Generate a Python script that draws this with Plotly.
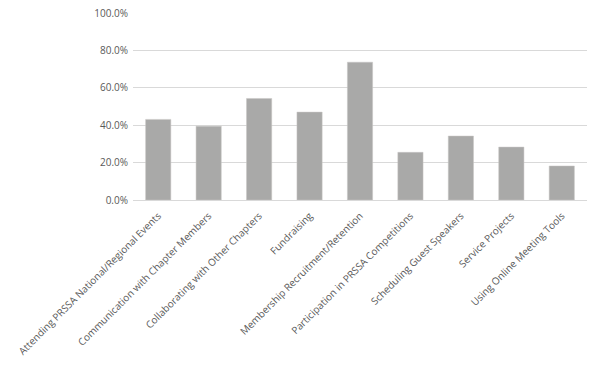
import plotly.graph_objects as go

categories = [
    "Attending PRSSA National/Regional Events",
    "Communication with Chapter Members",
    "Collaborating with Other Chapters",
    "Fundraising",
    "Membership Recruitment/Retention",
    "Participation in PRSSA Competitions",
    "Scheduling Guest Speakers",
    "Service Projects",
    "Using Online Meeting Tools",
]
values = [0.431, 0.395, 0.543, 0.470, 0.737, 0.255, 0.342, 0.283, 0.182]
y_ticks = [0, 0.2, 0.4, 0.6, 0.8, 1.0]

fig = go.Figure(
    go.Bar(
        x=categories,
        y=values,
        marker=dict(color="#A9A9A8", line=dict(color="#C8C7C5", width=0.5)),
    )
)
fig.update_layout(
    width=600,
    height=371,
    margin=dict(l=133, r=13, t=13, b=171),
    paper_bgcolor="white",
    plot_bgcolor="white",
    bargap=0.5,
    showlegend=False,
    font=dict(family="Open Sans", size=10, color="#595959"),
)
fig.update_yaxes(
    range=[0, 1.0],
    tickvals=y_ticks,
    tickformat=".1%",
    showgrid=True,
    gridcolor="#D9D9D9",
    gridwidth=1,
    zeroline=False,
    showline=False,
    ticks="",
    automargin=False,
    ticklabelstandoff=4,
    tickfont=dict(size=10, color="#595959"),
)
fig.update_xaxes(
    tickangle=-45,
    showline=True,
    linecolor="#D9D9D9",
    linewidth=1,
    ticks="",
    automargin=False,
    ticklabelstandoff=5,
    tickfont=dict(size=10, color="#595959"),
)
fig.write_html(
    "out.html",
    config={"displayModeBar": False},
    post_script="document.body.style.margin='0px';document.body.style.overflow='hidden';",
)
